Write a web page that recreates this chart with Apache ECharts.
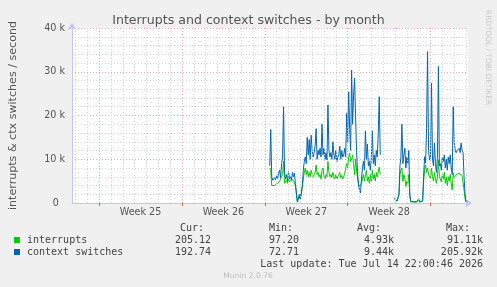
<!DOCTYPE html>
<html>
<head>
<meta charset="utf-8">
<script src="https://cdn.jsdelivr.net/npm/echarts@6/dist/echarts.min.js"></script>
<style>
  html, body { margin: 0; padding: 0; background: #f0f0f0; }
</style>
</head>
<body>
<div id="chart" style="width: 497px; height: 287px;"></div>
<script>
// samples are 2 hours apart, hours counted from Mon 15 Jun 00:00
const firstHour = 346;
const stepHours = 2;

// thousands per second, null = no data
const ctxSwitches = [
  8.5, 16.8, 6.0, 5.2, 5.5, 5.8, 5.3, 6.2, 5.6, 6.8, 7.5, 5.8, 9.0,
  10.5, 22.0, 7.0, 5.5, 6.5, 5.0, 7.2, 5.5, 6.0, 5.2, 7.0, 6.0, 6.8, 4.5, 2.5, 0.3, 0.2, 2.0, 1.0, 2.5,
  4.0, 7.5, 9.5, 10.5, 9.0, 15.0, 11.0, 14.5, 10.0, 15.5, 12.0, 10.5, 11.5, 13.0, 17.0, 10.0, 12.0, 11.0, 12.5, 10.5,
  18.0, 11.0, 12.5, 10.0, 11.5, 9.8, 22.4, 12.0, 10.5, 11.5, 10.0, 14.0, 11.0, 10.0, 12.0, 9.5, 10.5, 11.0, 13.0, 10.0,
  12.0, 10.5, 11.0, 12.5, 10.5, 20.5, 14.0, 25.4, 17.0, 12.0, 30.4, 18.0, 24.7, 28.5, 20.0, 12.0, 7.0, 4.0, 3.0, 2.3,
  5.5, 8.0, 9.5, 7.5, 16.5, 10.0, 13.5, 8.5, 9.5, 7.5, 10.5, 16.5, 9.0, 11.0, 8.5, 12.0, 10.5, 16.0, 24.3, 11.0,
  null, null, null, null, null, null, null, null, null, null, null, null, null,
  1.2, 0.8, 1.4, 0.5, 0.6, 2.0, 8.5, 10.5, 18.0, 9.0, 11.0, 12.5, 8.0, 10.5, 9.0, 12.0, 2.0, 0.4, 0.2, 0.2,
  0.3, 0.2, 0.2, 0.3, 0.2, 1.0, 0.3, 0.2, 0.3, 0.5, 6.0, 10.6, 9.1, 17.0, 34.6, 12.0, 9.8, 10.5, 27.4, 10.0,
  8.5, 13.7, 9.0, 7.0, 10.5, 31.2, 8.5, 9.0, 7.5, 10.5, 9.5, 11.0, 8.0, 10.0, 7.5, 10.5, 9.0, 11.0, 8.0, 6.5,
  22.0, 14.0, 12.1, 11.5, 12.0, 11.8, 12.5, 11.5, 13.7, 12.0, 11.5, 6.0, 2.0, 0.3
];

const interrupts = [
  8.0, 7.5, 4.0, 3.7, 3.8, 4.0, 4.2, 4.0, 4.5, 4.3, 5.0, 4.6, 5.0,
  6.5, 9.5, 4.5, 4.8, 5.2, 4.5, 5.5, 4.8, 5.0, 4.5, 5.5, 5.0, 5.3, 4.0, 2.0, 0.3, 0.2, 1.5, 0.8, 2.0,
  3.5, 5.5, 7.0, 8.0, 6.5, 7.5, 6.0, 7.0, 6.0, 7.5, 6.5, 6.0, 6.5, 7.0, 8.7, 6.5, 7.0, 6.0, 6.5, 5.5,
  7.5, 8.0, 6.0, 5.5, 6.5, 6.0, 9.5, 7.0, 6.0, 6.5, 5.8, 7.0, 6.0, 5.5, 6.5, 5.5, 6.0, 6.5, 7.0, 5.8,
  6.3, 5.5, 6.0, 6.8, 6.5, 9.0, 8.0, 10.5, 11.4, 9.5, 10.0, 11.0, 9.0, 6.5, 10.0, 7.5, 5.5, 4.5, 3.8, 3.7,
  4.5, 5.5, 6.5, 5.0, 6.5, 7.5, 5.0, 6.0, 4.5, 6.5, 5.0, 7.5, 5.5, 6.5, 5.0, 7.0, 6.0, 7.0, 8.2, 6.5,
  null, null, null, null, null, null, null, null, null, null, null, null, null,
  1.0, 0.6, 1.2, 0.4, 0.5, 1.8, 6.5, 7.5, 8.0, 5.0, 6.5, 5.5, 3.8, 5.0, 4.5, 6.5, 1.5, 0.3, 0.2, 0.2,
  0.2, 0.2, 0.2, 0.2, 0.2, 0.8, 0.2, 0.2, 0.2, 0.4, 5.0, 7.5, 8.7, 7.0, 8.0, 6.5, 6.0, 5.5, 8.0, 6.0,
  5.0, 7.0, 5.5, 4.5, 6.0, 9.8, 6.0, 5.5, 4.8, 6.5, 5.5, 7.0, 4.5, 6.0, 4.0, 6.0, 5.0, 6.5, 4.5, 3.0,
  6.8, 6.0, 6.3, 6.5, 6.5, 6.4, 6.8, 6.5, 6.5, 6.3, 6.0, 3.0, 1.0, 0.2
];

const weekLabels = ['Week 25', 'Week 26', 'Week 27', 'Week 28'];
const weekMidHours = [84, 252, 420, 588];
const weekStartHours = [0, 168, 336, 504, 672];
const dayHours = [-48, -24, 24, 48, 72, 96, 120, 144, 192, 216, 240, 264, 288, 312, 360, 384, 408, 432, 456, 480,
  528, 552, 576, 600, 624, 648, 696, 720, 744];
const yTicks = [0, 10, 20, 30, 40];

const seriesNames = ['interrupts', 'context switches'];
const colors = ['#00cc00', '#0066b3'];
const statCur = ['205.12', '192.74'];
const statMin = ['97.20', '72.71'];
const statAvg = ['4.93k', '9.44k'];
const statMax = ['91.11k', '205.92k'];
const lastUpdate = 'Last update: Tue Jul 14 22:00:46 2026';

const toPoints = arr => arr.map((v, i) => [firstHour + i * stepHours, v]);

const chart = echarts.init(document.getElementById('chart'));

const mono = '10px "DejaVu Sans Mono"';
const textColor = '#444';
const gridGray = '#d4d4d4';
const gridRed = '#eaa8a8';
const axisBlue = '#c4c4f0';

const graphics = [
  {
    type: 'text', x: 488, y: 10, rotation: -Math.PI / 2,
    style: { text: 'RRDTOOL / TOBI OETIKER', fill: '#c8c8c8', font: '7.4px "DejaVu Sans"', textAlign: 'left', textVerticalAlign: 'middle' }
  },
  { type: 'text', x: 204, y: 228, style: { text: 'Cur:', fill: textColor, font: mono, textAlign: 'right', textVerticalAlign: 'middle' } },
  { type: 'text', x: 293, y: 228, style: { text: 'Min:', fill: textColor, font: mono, textAlign: 'right', textVerticalAlign: 'middle' } },
  { type: 'text', x: 381, y: 228, style: { text: 'Avg:', fill: textColor, font: mono, textAlign: 'right', textVerticalAlign: 'middle' } },
  { type: 'text', x: 470, y: 228, style: { text: 'Max:', fill: textColor, font: mono, textAlign: 'right', textVerticalAlign: 'middle' } },
  { type: 'text', x: 483, y: 264, style: { text: lastUpdate, fill: textColor, font: mono, textAlign: 'right', textVerticalAlign: 'middle' } },
  { type: 'text', x: 248, y: 276, style: { text: 'Munin 2.0.76', fill: '#bdbdbd', font: '7.6px "DejaVu Sans"', textAlign: 'center', textVerticalAlign: 'middle' } }
];

seriesNames.forEach((name, i) => {
  const y = 240 + i * 12;
  graphics.push({ type: 'rect', shape: { x: 14, y: y - 3, width: 6, height: 6 }, style: { fill: colors[i] } });
  graphics.push({ type: 'text', x: 27, y: y, style: { text: name, fill: textColor, font: mono, textVerticalAlign: 'middle' } });
  graphics.push({ type: 'text', x: 211, y: y, style: { text: statCur[i], fill: textColor, font: mono, textAlign: 'right', textVerticalAlign: 'middle' } });
  graphics.push({ type: 'text', x: 299, y: y, style: { text: statMin[i], fill: textColor, font: mono, textAlign: 'right', textVerticalAlign: 'middle' } });
  graphics.push({ type: 'text', x: 394, y: y, style: { text: statAvg[i], fill: textColor, font: mono, textAlign: 'right', textVerticalAlign: 'middle' } });
  graphics.push({ type: 'text', x: 483, y: y, style: { text: statMax[i], fill: textColor, font: mono, textAlign: 'right', textVerticalAlign: 'middle' } });
});

// vertical grid: gray per day, red per week
const vLines = dayHours.map(h => ({ xAxis: h, lineStyle: { color: gridGray, type: [1, 2], width: 1 } }))
  .concat(weekStartHours.map(h => ({ xAxis: h, lineStyle: { color: gridRed, type: [1, 2], width: 1 } })));

const option = {
  animation: false,
  backgroundColor: '#f0f0f0',
  textStyle: { fontFamily: 'DejaVu Sans' },
  title: {
    text: 'Interrupts and context switches - by month',
    left: 'center',
    top: 9,
    textStyle: { fontSize: 12.6, fontWeight: 'normal', color: '#555', fontFamily: 'DejaVu Sans' }
  },
  grid: {
    left: 66, right: 29, top: 28, bottom: 84,
    show: true, backgroundColor: '#ffffff', borderWidth: 0
  },
  xAxis: {
    type: 'value',
    min: -55,
    max: 748,
    axisLine: {
      show: true,
      onZero: false,
      lineStyle: { color: axisBlue, width: 1 },
      symbol: ['none', 'arrow'],
      symbolSize: [7, 7],
      symbolOffset: [0, 4]
    },
    axisTick: { show: true, customValues: weekStartHours, length: 3, lineStyle: { color: '#e06060' } },
    axisLabel: {
      customValues: weekMidHours,
      formatter: v => weekLabels[weekMidHours.indexOf(v)] || '',
      color: '#555', fontSize: 9.6, margin: 4
    },
    splitLine: { show: false }
  },
  yAxis: {
    type: 'value',
    min: 0,
    max: 40,
    interval: 10,
    name: 'interrupts & ctx switches / second',
    nameLocation: 'middle',
    nameGap: 53,
    nameTextStyle: { color: '#555', fontSize: 11.1 },
    axisLine: {
      show: true,
      onZero: false,
      lineStyle: { color: axisBlue, width: 1 },
      symbol: ['none', 'arrow'],
      symbolSize: [7, 7],
      symbolOffset: [0, 5]
    },
    axisTick: { show: false },
    axisLabel: {
      color: '#555', fontSize: 9.6, margin: 7,
      formatter: v => (yTicks.indexOf(v) === 0 ? '0\u00a0\u00a0' : v + ' k')
    },
    splitLine: { show: true, lineStyle: { color: gridRed, type: [1, 2] } },
    minorTick: { show: false, splitNumber: 5 },
    minorSplitLine: { show: true, lineStyle: { color: gridGray, type: [1, 2] } }
  },
  graphic: graphics,
  series: [
    {
      name: 'grid',
      type: 'line',
      data: [],
      silent: true,
      z: 1,
      markLine: { silent: true, symbol: 'none', label: { show: false }, animation: false, data: vLines }
    },
    {
      name: seriesNames[0],
      type: 'line',
      data: toPoints(interrupts),
      showSymbol: false,
      connectNulls: false,
      z: 3,
      lineStyle: { color: colors[0], width: 1 },
      itemStyle: { color: colors[0] }
    },
    {
      name: seriesNames[1],
      type: 'line',
      data: toPoints(ctxSwitches),
      showSymbol: false,
      connectNulls: false,
      z: 4,
      lineStyle: { color: colors[1], width: 1 },
      itemStyle: { color: colors[1] }
    }
  ]
};

chart.setOption(option);
</script>
</body>
</html>
